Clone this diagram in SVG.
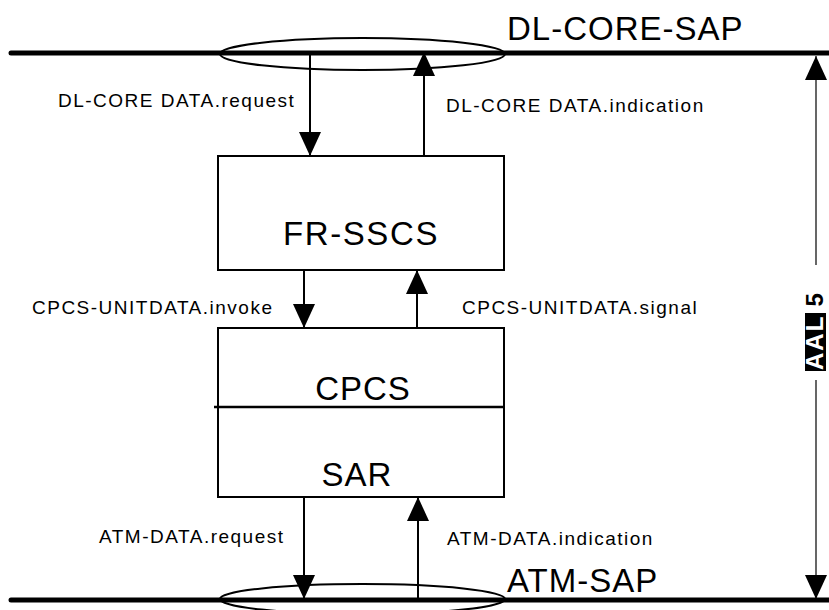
<svg xmlns="http://www.w3.org/2000/svg" width="829" height="610" viewBox="0 0 829 610">
<defs>
<style>
text{font-family:"Liberation Sans",Arial,sans-serif;fill:#000}
.lbl{font-size:19px;letter-spacing:1.5px}
.big{font-size:33px;letter-spacing:1px}
.box{fill:#fff;stroke:#000;stroke-width:2}
.sap{stroke:#000;stroke-width:5;stroke-linecap:round;fill:none}
.ell{fill:none;stroke:#000;stroke-width:2}
.con{stroke:#000;stroke-width:2;fill:none;marker-end:url(#ah)}
.dim{stroke:#000;stroke-width:1.2;fill:none;marker-end:url(#ah)}
</style>
<marker id="ah" markerUnits="userSpaceOnUse" markerWidth="24" markerHeight="24" refX="24" refY="12" orient="auto" viewBox="0 0 24 24">
<path d="M0,1 L24,12 L0,23 z" fill="#000"/>
</marker>
</defs>

<g id="dl-core-sap">
<line class="sap" x1="11" y1="53" x2="829" y2="53"/>
<ellipse class="ell" cx="362.5" cy="54" rx="142.5" ry="16"/>
<text class="big" x="507" y="40">DL-CORE-SAP</text>
</g>

<g id="atm-sap">
<line class="sap" x1="11" y1="600" x2="829" y2="600"/>
<ellipse class="ell" cx="362.5" cy="599" rx="142.5" ry="15"/>
<text class="big" x="507" y="592">ATM-SAP</text>
</g>

<g id="fr-sscs">
<rect class="box" x="218" y="156" width="286" height="114"/>
<text class="big" x="361" y="245" text-anchor="middle" style="letter-spacing:1.6px">FR-SSCS</text>
</g>

<g id="cpcs-sar">
<rect class="box" x="218" y="328" width="286" height="169"/>
<line x1="214" y1="407" x2="505" y2="407" stroke="#000" stroke-width="2.5"/>
<text class="big" x="363" y="400" text-anchor="middle">CPCS</text>
<text class="big" x="357" y="486" text-anchor="middle">SAR</text>
</g>

<g id="aal5">
<rect x="805" y="313" width="21" height="58" fill="#000"/>
<text transform="translate(823,370) rotate(-90)" style="font-size:24px;letter-spacing:2px;font-weight:bold"><tspan fill="#fff">AAL</tspan> 5</text>
</g>

<g id="connectors">
<line class="con" x1="310" y1="55" x2="310" y2="156"/>
<line class="con" x1="424" y1="156" x2="424" y2="52"/>
<line class="con" x1="304" y1="270" x2="304" y2="328"/>
<line class="con" x1="417" y1="328" x2="417" y2="270"/>
<line class="con" x1="304" y1="497" x2="304" y2="599"/>
<line class="con" x1="418" y1="599" x2="418" y2="497"/>
<line class="dim" x1="816" y1="265" x2="816" y2="56"/>
<line class="dim" x1="816" y1="380" x2="816" y2="599"/>
</g>

<g id="labels">
<text class="lbl" x="58" y="107">DL-CORE DATA.request</text>
<text class="lbl" x="446" y="112">DL-CORE DATA.indication</text>
<text class="lbl" x="32" y="314">CPCS-UNITDATA.invoke</text>
<text class="lbl" x="462" y="314">CPCS-UNITDATA.signal</text>
<text class="lbl" x="99" y="543">ATM-DATA.request</text>
<text class="lbl" x="447" y="545">ATM-DATA.indication</text>
</g>
</svg>
